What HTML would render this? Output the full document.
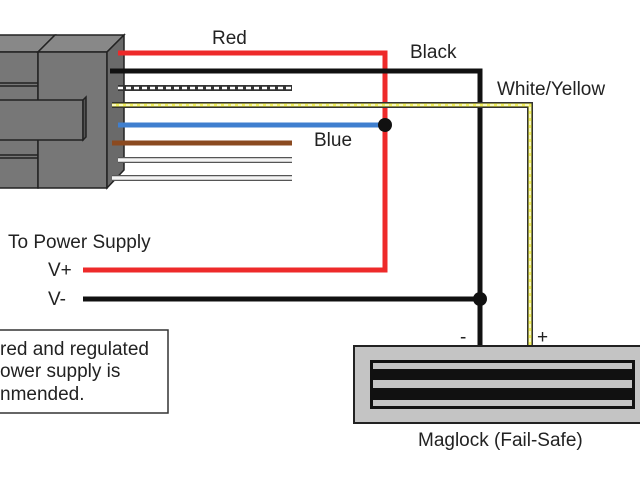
<!DOCTYPE html>
<html><head><style>
html,body{margin:0;padding:0;background:#fff;width:640px;height:480px;overflow:hidden}
svg{display:block}
text{font-family:"Liberation Sans",Arial,sans-serif;fill:#222}
</style></head><body>
<svg width="640" height="480" viewBox="0 0 640 480">
<g stroke="#222" stroke-width="1.5" fill="#777">
<polygon points="-5,52 38,52 55,35 -5,35" fill="#888"/>
<rect x="-5" y="52" width="43" height="136"/>
<polygon points="38,52 55,35 124,35 107,52" fill="#888"/>
<rect x="38" y="52" width="69" height="136"/>
<polygon points="107,52 124,35 124,170 107,188" fill="#6a6a6a"/>
<rect x="-5" y="100" width="88" height="40"/>
<polygon points="83,100 86,97 86,137 83,140" fill="#555"/>
<line x1="-5" y1="83" x2="38" y2="83"/><line x1="-5" y1="86" x2="38" y2="86"/>
<line x1="-5" y1="155" x2="38" y2="155"/><line x1="-5" y1="158" x2="38" y2="158"/>
</g>
<g fill="none" stroke-linejoin="miter">
<polyline points="118,53 385,53 385,270 83,270" stroke="#ee2a2a" stroke-width="5"/>
<polyline points="110,71 480,71 480,346" stroke="#111" stroke-width="5"/>
<line x1="83" y1="299" x2="480" y2="299" stroke="#111" stroke-width="5"/>
<line x1="118" y1="88" x2="292" y2="88" stroke="#333" stroke-width="6"/>
<line x1="118" y1="88" x2="292" y2="88" stroke="#fff" stroke-width="2.5" stroke-dasharray="5 3"/>
<polyline points="112,105 530,105 530,346" stroke="#333" stroke-width="6"/>
<polyline points="112,105 530,105 530,346" stroke="#f2f05a" stroke-width="3"/>
<polyline points="112,105 530,105 530,346" stroke="#fff" stroke-width="1.2" stroke-dasharray="4 3"/>
<line x1="118" y1="125" x2="385" y2="125" stroke="#3f7fcf" stroke-width="5"/>
<line x1="112" y1="143" x2="292" y2="143" stroke="#8b4a20" stroke-width="5"/>
<line x1="118" y1="160" x2="292" y2="160" stroke="#555" stroke-width="6"/>
<line x1="118" y1="160" x2="292" y2="160" stroke="#f4f4f4" stroke-width="3.5"/>
<line x1="112" y1="178" x2="292" y2="178" stroke="#555" stroke-width="6"/>
<line x1="112" y1="178" x2="292" y2="178" stroke="#f4f4f4" stroke-width="3.5"/>
</g>
<circle cx="385" cy="125" r="7" fill="#111"/>
<circle cx="480" cy="299" r="7" fill="#111"/>
<rect x="354" y="346" width="300" height="77" fill="#c4c4c4" stroke="#222" stroke-width="2"/>
<rect x="370" y="360" width="265" height="49" fill="#111"/>
<rect x="373" y="363" width="259" height="6" fill="#c4c4c4"/>
<rect x="373" y="380" width="259" height="8" fill="#c4c4c4"/>
<rect x="373" y="400" width="259" height="6" fill="#c4c4c4"/>
<rect x="-5" y="330" width="173" height="83" fill="#fff" stroke="#333" stroke-width="1.5"/>
<g font-size="19">
<text x="212" y="44">Red</text>
<text x="410" y="58">Black</text>
<text x="497" y="95">White/Yellow</text>
<text x="314" y="146">Blue</text>
<text x="8" y="248">To Power Supply</text>
<text x="48" y="276">V+</text>
<text x="48" y="305">V-</text>
<text x="0" y="355">red and regulated</text>
<text x="0" y="377">ower supply is</text>
<text x="0" y="400">nmended.</text>
<text x="460" y="343">-</text>
<text x="537" y="343">+</text>
<text x="418" y="446">Maglock (Fail-Safe)</text>
</g>
</svg>
</body></html>
